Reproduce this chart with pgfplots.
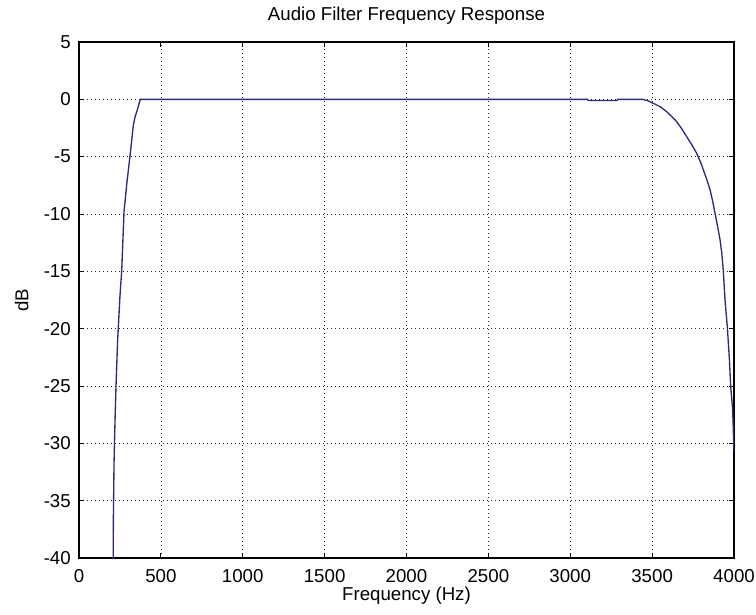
\documentclass[border=0pt]{standalone}
\usepackage{fontspec}
\setmainfont{Liberation Sans}
\usepackage{pgfplots}
\pgfplotsset{compat=1.18}
\definecolor{curve}{RGB}{43,43,122}
\newcommand{\lblfont}{\fontsize{14}{16}\selectfont}

\begin{document}
\begin{tikzpicture}
\begin{axis}[
  at={(0,0)}, anchor=south west,
  scale only axis, width=491.25pt, height=387pt,
  xmin=0, xmax=4000, ymin=-40, ymax=5,
  xtick={0,500,...,4000}, ytick={-40,-35,...,5},
  scaled ticks=false,
  /pgf/number format/1000 sep={},
  /pgf/number format/assume math mode=true,
  tick align=inside, major tick length=4pt,
  tick style={black, line width=0.6pt},
  axis line style={black, line width=0.8pt},
  grid=major,
  major grid style={black!85, line width=0.5pt, dash pattern=on 0.7pt off 2.3pt},
  ticklabel style={font=\lblfont},
  xticklabel style={anchor=base, yshift=-18pt},
  yticklabel style={anchor=east, inner sep=0pt, xshift=-6pt},
  title={Audio Filter Frequency Response},
  title style={font=\lblfont, at={(axis description cs:0.5,1.0271)}, anchor=base},
  xlabel={Frequency (Hz)},
  xlabel style={font=\lblfont, at={(axis description cs:0.5,-0.0814)}, anchor=base},
  ylabel={dB},
  ylabel style={font=\lblfont, at={(axis description cs:-0.0774,0.5)}, anchor=base},
  clip=true,
]
\addplot[curve, line width=1pt] coordinates {
(206,-42) (209,-39.9) (210,-36.4) (214,-31.7) (220,-28) (226,-25)
(236,-21) (250,-17.2) (261,-14.9) (270,-11.6) (275,-9.8) (291,-7.47)
(311,-5) (332,-2.24) (343,-1.5) (356,-0.93) (368,-0.3) (375,0)
(1000,0) (2000,0) (3105,0) (3110,-0.1) (3285,-0.1) (3290,0)
(3440,0) (3470,-0.1) (3508,-0.35) (3550,-0.65) (3589,-1.08)
(3620,-1.5) (3650,-1.95) (3680,-2.55) (3711,-3.26) (3742,-3.95)
(3772,-4.71) (3795,-5.45) (3813,-6.16) (3834,-7.0) (3854,-7.9)
(3870,-8.9) (3884,-9.94) (3900,-11.1) (3915,-12.27) (3926,-13.5)
(3935,-15.0) (3945,-17.5) (3959,-19.8) (3972,-22.7) (3980,-25.1)
(3992,-27.1) (3996,-29) (4000,-30.7)
};
\end{axis}
\pgfresetboundingbox
\useasboundingbox (-59.25pt,-42pt) rectangle (507.75pt,418.5pt);
\end{tikzpicture}
\end{document}
